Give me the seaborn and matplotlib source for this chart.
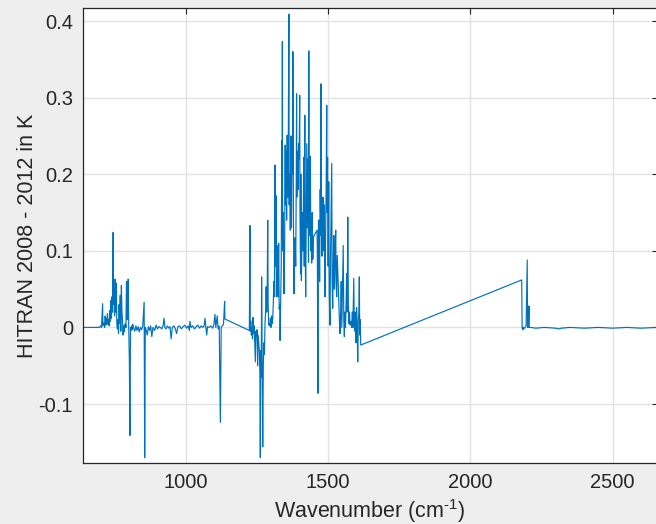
import numpy as np
import pandas as pd
import matplotlib
matplotlib.use("Agg")
import matplotlib.pyplot as plt
import seaborn as sns

# ---- data (wavenumber in cm^-1, difference in K) ----
wn_a = [638, 650, 665, 680, 695, 700, 703, 707, 708, 712, 714, 716, 718, 720, 722, 724,
        726, 728, 730, 732, 734, 736, 738, 740, 742, 744, 745, 747, 749, 751, 753, 755,
        757, 759, 761, 763, 765, 767, 769, 771, 773, 775, 777, 779, 781, 783, 785, 787,
        789, 791, 793, 795, 797, 799, 801, 803, 805, 807, 809, 811, 813, 815, 817, 820,
        824, 828, 832, 836, 840, 844, 848, 853, 855, 857, 860, 864, 868, 872, 876, 880,
        884, 890, 895, 900, 905, 910, 915, 920, 923, 926, 930, 935, 940, 944, 948, 952,
        958, 963, 967, 972, 978, 984, 990, 996, 1002, 1008, 1012, 1014, 1018, 1024, 1030,
        1036, 1042, 1048, 1054, 1060, 1064, 1067, 1070, 1073, 1076, 1082, 1088, 1094, 1098,
        1102, 1105, 1110, 1113, 1117, 1121, 1124, 1128, 1132, 1136, 1137]
val_a = [0.0, 0.0, 0.0, 0.0, 0.0, 0.002, 0.0, 0.031, 0.002, 0.006, 0.0, 0.015, 0.003, 0.012,
         0.004, 0.018, 0.005, 0.010, 0.002, 0.022, 0.008, 0.035, 0.012, 0.040, 0.020, 0.124,
         0.030, 0.050, 0.015, 0.063, 0.020, 0.058, 0.005, -0.002, 0.010, -0.008, 0.030, 0.005,
         0.042, -0.005, 0.055, 0.020, 0.010, -0.010, 0.002, -0.006, 0.003, 0.005, 0.0, 0.060,
         0.010, 0.045, 0.063, -0.003, -0.042, -0.141, 0.0, -0.004, 0.002, -0.003, 0.004, 0.0,
         -0.002, -0.005, 0.002, -0.004, 0.001, -0.006, 0.0, -0.003, 0.002, 0.033, -0.170, 0.0,
         -0.003, -0.010, 0.001, -0.004, 0.002, -0.012, 0.0, -0.004, 0.003, -0.002, 0.001, 0.0,
         -0.002, 0.003, 0.012, 0.0, -0.002, 0.002, -0.001, 0.001, -0.015, 0.0, 0.002, -0.002,
         -0.008, 0.001, 0.002, -0.002, 0.001, 0.003, -0.001, 0.002, -0.004, 0.008, 0.0,
         0.002, -0.002, 0.001, 0.003, -0.001, 0.002, 0.0, 0.002, 0.012, 0.0, -0.010, 0.001,
         0.0, 0.002, -0.001, 0.003, 0.017, 0.0, 0.015, -0.002, 0.002, -0.124, 0.0, 0.002,
         0.004, 0.034, 0.011]

wn_b = [1223, 1225, 1226, 1228, 1230, 1232, 1234, 1236, 1238, 1240, 1242, 1244, 1246, 1248,
        1250, 1252, 1254, 1256, 1258, 1260, 1261.5, 1263, 1265, 1266, 1268, 1270, 1272, 1274,
        1276, 1278, 1280, 1282, 1284, 1286, 1287.5, 1289, 1291, 1293, 1295, 1297, 1299, 1301,
        1303, 1305, 1307, 1309, 1311, 1313, 1315, 1317, 1318, 1320, 1322, 1324, 1326, 1328,
        1330, 1331, 1333, 1335, 1337, 1338, 1339, 1340, 1342, 1344, 1345, 1347, 1349, 1350,
        1352, 1354, 1356, 1358, 1360, 1362, 1363, 1365, 1367, 1369, 1371, 1373, 1375, 1376,
        1378, 1380, 1382, 1384, 1386, 1388, 1389, 1390, 1392, 1394, 1396, 1398, 1400, 1401,
        1403, 1404, 1406, 1408, 1410, 1412, 1414, 1416, 1418, 1419, 1421, 1423, 1425, 1427,
        1429, 1431, 1432, 1433, 1435, 1437.5, 1439, 1441, 1442, 1444, 1446, 1448, 1461, 1462,
        1464, 1466, 1468, 1470, 1472, 1474, 1475, 1476, 1478, 1480, 1482, 1484, 1486, 1488,
        1489, 1491, 1493, 1495, 1496, 1498, 1500, 1502, 1504, 1506.5, 1508, 1510, 1512.5,
        1514, 1516, 1518, 1520, 1522, 1524, 1526.6, 1528, 1530, 1532, 1535, 1538, 1540, 1542,
        1544, 1546, 1548, 1550, 1553, 1555, 1557, 1559, 1561, 1563, 1565, 1567, 1569, 1571,
        1573, 1575, 1577, 1579, 1581, 1583, 1585, 1587, 1590, 1592, 1594, 1596, 1598, 1600,
        1602, 1604, 1606, 1608, 1609.6, 1611, 1613, 1614.5]
val_b = [-0.004, 0.133, -0.005, 0.008, -0.010, 0.0, -0.015, 0.013, -0.008, 0.002, -0.020,
         -0.045, -0.005, -0.012, -0.003, -0.050, -0.010, -0.020, -0.030, -0.060, -0.170, -0.030,
         -0.065, 0.066, -0.040, -0.156, -0.050, -0.020, -0.035, 0.005, 0.020, 0.053, 0.020,
         0.060, 0.140, 0.030, 0.003, 0.005, 0.002, 0.012, 0.0, 0.015, 0.005, 0.010, 0.030,
         0.060, 0.040, 0.212, 0.080, 0.172, 0.040, 0.107, 0.059, 0.040, 0.110, 0.024, 0.030,
         -0.017, 0.030, 0.080, 0.244, 0.120, 0.373, 0.100, 0.150, 0.060, 0.044, 0.107, 0.238,
         0.160, 0.230, 0.140, 0.251, 0.170, 0.250, 0.409, 0.160, 0.200, 0.127, 0.250, 0.130,
         0.240, 0.200, 0.360, 0.140, 0.044, 0.100, 0.117, 0.080, 0.200, 0.305, 0.170, 0.230,
         0.180, 0.240, 0.220, 0.303, 0.150, 0.070, 0.200, 0.061, 0.120, 0.150, 0.100, 0.222,
         0.080, 0.277, 0.120, 0.040, 0.150, 0.240, 0.130, 0.220, 0.085, 0.361, 0.120, 0.200,
         0.223, 0.100, 0.140, 0.084, 0.150, 0.089, 0.118, 0.127, 0.100, -0.086, 0.140, 0.140,
         0.060, 0.180, 0.120, 0.318, 0.160, 0.093, 0.140, 0.170, 0.100, 0.160, 0.070, 0.040,
         0.120, 0.180, 0.290, 0.150, 0.222, 0.080, 0.190, 0.040, 0.003, 0.080, 0.140, 0.214,
         0.060, 0.025, 0.080, 0.120, 0.050, 0.090, 0.127, 0.060, 0.040, 0.094, 0.060, 0.030,
         0.005, -0.008, 0.020, 0.060, 0.0, 0.040, 0.107, 0.010, -0.012, 0.020, 0.0, 0.030,
         0.070, 0.020, 0.144, 0.030, 0.005, 0.020, 0.003, 0.004, 0.008, 0.0, 0.020, 0.0,
         0.064, 0.003, -0.005, 0.020, -0.020, 0.026, 0.0, -0.045, 0.010, 0.020, 0.066, -0.010,
         0.010, -0.023]

wn_c = [2180.6, 2182, 2184, 2186, 2188, 2192, 2196, 2200, 2201, 2204, 2206, 2207, 2212,
        2230, 2260, 2300, 2310, 2320, 2350, 2400, 2450, 2500, 2550, 2600, 2650, 2665]
val_c = [0.062, 0.0, -0.003, 0.0, -0.002, 0.0, 0.002, 0.088, 0.0, 0.0, 0.028, 0.0, 0.0,
         -0.001, 0.0, -0.001, -0.002, -0.001, 0.0, -0.001, 0.0, -0.001, 0.0, -0.001, 0.0, 0.0]

x_ticks = [1000, 1500, 2000, 2500]
y_ticks = [-0.1, 0, 0.1, 0.2, 0.3, 0.4]
y_tick_labels = ["-0.1", "0", "0.1", "0.2", "0.3", "0.4"]

df = pd.DataFrame({
    "wavenumber": wn_a + wn_b + wn_c,
    "diff": val_a + val_b + val_c,
})

# ---- styling ----
sns.set_style("white")
plt.rcParams["font.family"] = ["Liberation Sans", "DejaVu Sans"]
plt.rcParams["mathtext.fontset"] = "custom"
plt.rcParams["mathtext.rm"] = "Liberation Sans"

fig_bg = "#eeeeef"
fig = plt.figure(figsize=(6.56, 5.24), dpi=100, facecolor=fig_bg)
ax = fig.add_axes([82.7 / 656, 61 / 524, (657.5 - 82.7) / 656, (463 - 8) / 524])
ax.set_facecolor("white")

sns.lineplot(data=df, x="wavenumber", y="diff", sort=False, estimator=None,
             color="#0072BD", linewidth=0.85, ax=ax, legend=False)

ax.set_xlim(637, 2658)
ax.set_ylim(-0.177, 0.417)
ax.set_xticks(x_ticks)
ax.set_xticklabels([str(t) for t in x_ticks])
ax.set_yticks(y_ticks)
ax.set_yticklabels(y_tick_labels)

ax.grid(True, color="#e3e3e3", linewidth=1.0)
ax.set_axisbelow(True)
for s in ax.spines.values():
    s.set_color("#262626")
    s.set_linewidth(0.9)
    s.set_visible(True)

ax.tick_params(direction="in", top=True, right=True, length=4, width=0.8,
               color="#262626", labelcolor="#262626", labelsize=14.5, pad=7)

ax.set_xlabel(r"Wavenumber (cm$^{\text{-1}}$)", fontsize=15.5, color="#262626", labelpad=4)
ax.set_ylabel("HITRAN 2008 - 2012 in K", fontsize=15.5, color="#262626", labelpad=0.5)

fig.savefig("out.png", dpi=100, facecolor=fig_bg)
